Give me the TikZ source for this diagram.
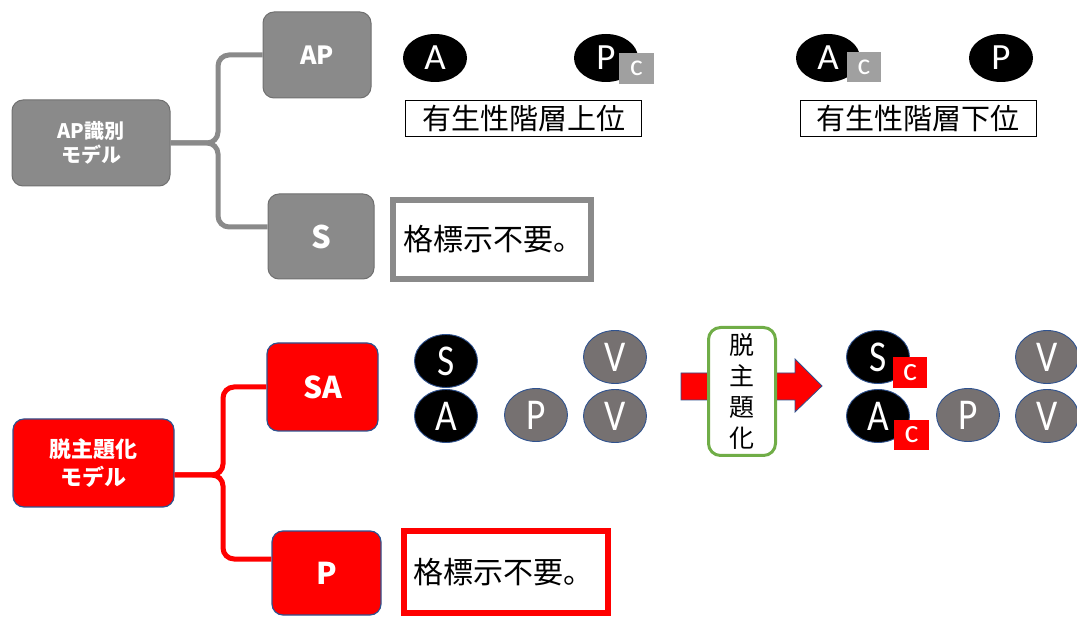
\documentclass[tikz,border=0pt]{standalone}
\usepackage{graphicx}
\usepackage{fontspec}
\setmainfont{Noto Sans CJK JP}
\newfontfamily\lat{Carlito}
\usetikzlibrary{shapes.geometric}
\definecolor{gfill}{RGB}{138,138,138}
\definecolor{gline}{RGB}{112,112,112}
\definecolor{pblue}{RGB}{47,82,143}
\definecolor{cgray}{RGB}{118,113,113}
\definecolor{sqgray}{RGB}{160,160,160}
\definecolor{pgreen}{RGB}{112,173,71}
\begin{document}
\begin{tikzpicture}[x=1pt,y=-1pt,
  gbox/.style={draw=gline, line width=1pt, fill=gfill, rounded corners=11pt, inner sep=0pt, text=white, align=center},
  rbox/.style={draw=pblue, line width=1.2pt, fill=red, rounded corners=11pt, inner sep=0pt, text=white, align=center},
  gbrace/.style={draw=gfill, line width=5pt, rounded corners=11pt},
  rbrace/.style={draw=red, line width=5pt, rounded corners=11pt},
  topc/.style={ellipse, fill=black, inner sep=0pt, minimum width=64pt, minimum height=48pt, text=white, font=\lat\fontsize{37}{37}\selectfont},
  blkc/.style={ellipse, fill=black, draw=pblue, line width=0.9pt, inner sep=0pt, minimum width=63pt, minimum height=53pt, text=white, font=\lat\fontsize{44}{44}\selectfont},
  gryc/.style={ellipse, fill=cgray, draw=pblue, line width=0.9pt, inner sep=0pt, minimum width=63pt, minimum height=53pt, text=white, font=\lat\fontsize{44}{44}\selectfont},
  gsq/.style={fill=sqgray, inner sep=0pt, minimum width=35pt, minimum height=31pt, text=white, font=\lat\fontsize{30}{30}\selectfont},
  rsq/.style={fill=red, inner sep=0pt, minimum width=35pt, minimum height=31pt, text=white, font=\lat\fontsize{33}{33}\selectfont},
  hier/.style={draw=black, line width=0.9pt, inner sep=0pt, minimum width=236pt, minimum height=36pt, font=\fontsize{29}{30}\selectfont},
  kaku/.style={line width=6pt, inner ysep=0pt, align=left, font=\fontsize{30}{32}\selectfont}
]
\useasboundingbox (0,0) rectangle (1077,617);

% ---------- top (gray) ----------
\node[gbox, minimum width=158pt, minimum height=86pt, font=\bfseries\fontsize{20}{24}\selectfont] (gm) at (91,143) {AP識別\\モデル};
\node[gbox, minimum width=108pt, minimum height=86pt, font=\bfseries\fontsize{25}{26}\selectfont] (ap) at (317,55) {AP};
\node[gbox, minimum width=106pt, minimum height=85pt, font=\bfseries\fontsize{31}{32}\selectfont] (s) at (321,236.5) {S};

\coordinate (gb) at (218,143);
\coordinate (sb) at ([yshift=9.5pt]s.west);
\draw[gbrace] (ap.west) -- (ap.west -| gb) -- (gb) -- (gm.east);
\draw[gbrace] (sb) -- (sb -| gb) -- (gb) -- (gm.east);

\node[topc] (a1) at (435,58) {A};
\node[topc] (p1) at (606,58) {P};
\node[gsq] (c1) at (636.5,68.5) {\raisebox{-3pt}{c}};
\node[topc] (a2) at (828,58) {A};
\node[gsq, minimum width=34pt, minimum height=30pt] (c2) at (864,67) {\raisebox{-3pt}{c}};
\node[topc] (p2) at (1001,58) {P};

\node[hier] (up) at (523.5,118) {有生性階層上位};
\node[hier] (down) at (918,118) {有生性階層下位};

\node[kaku, draw=gfill, text width=178pt, inner xsep=10pt, minimum height=79pt] (gk) at (492,239.5) {格標示不要。};

% ---------- bottom (red) ----------
\node[rbox, minimum width=161pt, minimum height=88pt, font=\bfseries\fontsize{22}{28}\selectfont] (rm) at (93.5,463) {脱主題化\\モデル};
\node[rbox, minimum width=111pt, minimum height=88pt, font=\bfseries\fontsize{30}{32}\selectfont] (sa) at (322.5,387) {SA};
\node[rbox, minimum width=109pt, minimum height=84pt, font=\bfseries\fontsize{30}{32}\selectfont] (p) at (326.5,573) {P};

\coordinate (rb) at (223,475);
\coordinate (pb) at ([yshift=14pt]p.west);
\draw[rbrace] (sa.west) -- (sa.west -| rb) -- (rb) -- (rm.east |- rb);
\draw[rbrace] (pb) -- (pb -| rb) -- (rb) -- (rm.east |- rb);

\node[kaku, draw=red, text width=186pt, inner xsep=9pt, minimum height=82pt] (rk) at (506,572) {格標示不要。};

\node[blkc] (s1) at (446,361) {\scalebox{0.85}[1]{S}};
\node[blkc] (a3) at (446,416) {\scalebox{0.85}[1]{A}};
\node[gryc] (p3) at (536,415) {\scalebox{0.85}[1]{P}};
\node[gryc] (v1) at (615,357) {\scalebox{0.85}[1]{V}};
\node[gryc] (v2) at (615,416) {\scalebox{0.85}[1]{V}};

% block arrow
\draw[draw=pblue, line width=0.8pt, fill=red] (681,373) -- (795,373) -- (795,359) -- (822,386) -- (795,412) -- (795,400) -- (681,400) -- cycle;
\node[draw=pgreen, line width=3pt, fill=white, rounded corners=12pt, minimum width=67pt, minimum height=128pt, inner sep=0pt, align=center, font=\fontsize{25}{31}\selectfont] (dt) at (742,391.5) {脱\\主\\題\\化};

\node[blkc] (s2) at (878,357) {\scalebox{0.85}[1]{S}};
\node[rsq, minimum width=34pt] (c3) at (910,372.5) {\raisebox{-3pt}{c}};
\node[blkc] (a4) at (878,416) {\scalebox{0.85}[1]{A}};
\node[rsq, minimum height=30pt] (c4) at (911.5,435) {\raisebox{-3pt}{c}};
\node[gryc] (p4) at (968,415) {\scalebox{0.85}[1]{P}};
\node[gryc] (v3) at (1047,357) {\scalebox{0.85}[1]{V}};
\node[gryc] (v4) at (1047,416) {\scalebox{0.85}[1]{V}};
\end{tikzpicture}
\end{document}
